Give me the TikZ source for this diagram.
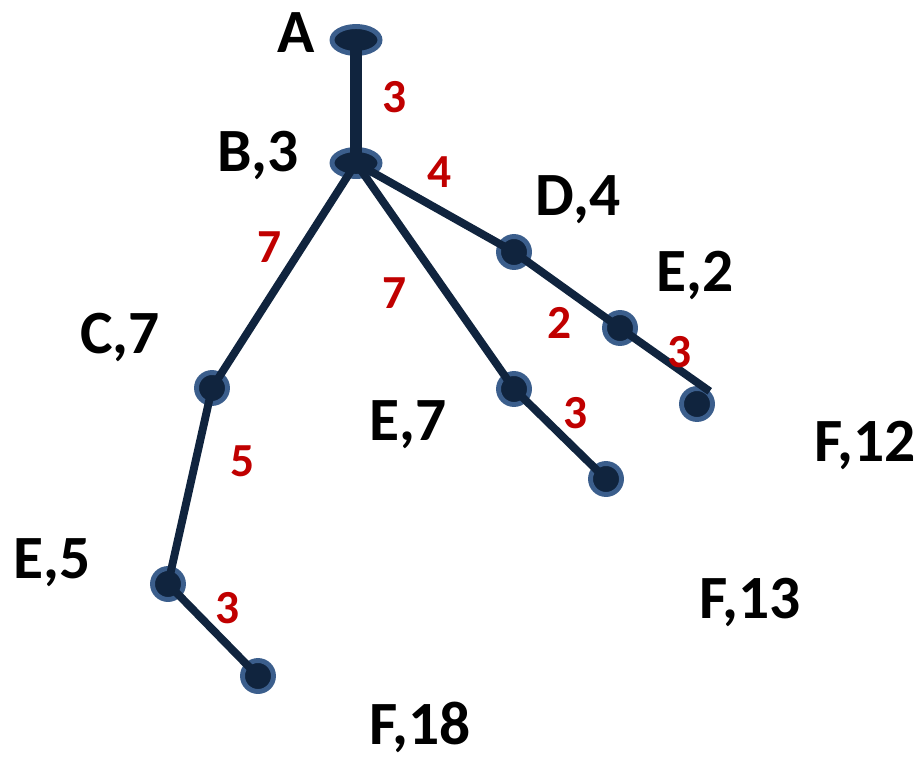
\documentclass[tikz,border=0pt]{standalone}
\usepackage{fontspec}
\setmainfont{Carlito}
\usepackage{tikz}
\usetikzlibrary{shapes.geometric}
\definecolor{edgeColor}{HTML}{10243E}
\definecolor{rimColor}{HTML}{3B5E8C}
\definecolor{textRed}{HTML}{C00000}

\begin{document}
\begin{tikzpicture}[x=0.02cm,y=-0.02cm,
vertex/.style={shape=circle,draw=rimColor,fill=edgeColor,line width=2.8pt,
    minimum size=6.2mm,inner sep=0},
eVertex/.style={shape=ellipse,draw=rimColor,fill=edgeColor,line width=2.8pt,
    minimum width=9.6mm,minimum height=5.4mm,inner sep=0},
nameLabel/.style={font=\fontsize{35}{40}\selectfont\bfseries,text=black},
costLabel/.style={font=\fontsize{27}{32}\selectfont\bfseries,text=textRed},
myedge/.style={line width=4.5pt,draw=edgeColor},
thickEdge/.style={line width=6.8pt,draw=edgeColor}
]
\useasboundingbox (0,0) rectangle (922,757);
% vertices
\node[eVertex] (a) at (356,40) {};
\node[eVertex] (b) at (356,163) {};
\node[vertex] (d) at (514,252) {};
\node[vertex] (e2) at (620,328) {};
\node[vertex] (f12) at (697,404) {};
\node[vertex] (e7) at (514,389) {};
\node[vertex] (f13) at (606,479) {};
\node[vertex] (c) at (212,388) {};
\node[vertex] (e5) at (168,584) {};
\node[vertex] (f18) at (258,676) {};
% edges
\draw[thickEdge] (a.center) -- (b.center);
\draw[myedge] (b.center) -- (d.center) -- (e2.center) -- (f12.north east);
\draw[myedge] (b.center) -- (e7.center) -- (f13.center);
\draw[myedge] (b.center) -- (c.center) -- (e5.center) -- (f18.center);
% names
\node[nameLabel] (lA) at (296,33) {A};
\node[nameLabel] (lB) at (258,155) {B,3};
\node[nameLabel] (lD) at (578,200) {D,4};
\node[nameLabel] (lE2) at (695,275) {E,2};
\node[nameLabel] (lC) at (120,337) {C,7};
\node[nameLabel] (lE7) at (408,425) {E,7};
\node[nameLabel] (lF12) at (865,445) {F,12};
\node[nameLabel] (lE5) at (52,563) {E,5};
\node[nameLabel] (lF13) at (750,602) {F,13};
\node[nameLabel] (lF18) at (420,727) {F,18};
% costs
\node[costLabel] (wAB) at (395,97) {3};
\node[costLabel] (wBD) at (440,172) {4};
\node[costLabel] (wBC) at (270,247) {7};
\node[costLabel] (wBE) at (395,293) {7};
\node[costLabel] (wDE) at (560,323) {2};
\node[costLabel] (wEF) at (680,352) {3};
\node[costLabel] (wE7F) at (576,413) {3};
\node[costLabel] (wCE) at (243,461) {5};
\node[costLabel] (wE5F) at (228,608) {3};
\end{tikzpicture}
\end{document}
